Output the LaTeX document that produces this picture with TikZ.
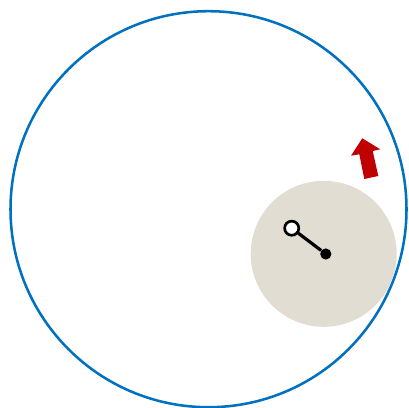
\documentclass[tikz,border=0pt]{standalone}
\definecolor{ringblue}{HTML}{0070C0}
\definecolor{discbeige}{HTML}{E1DDD2}
\definecolor{arrowred}{HTML}{C00000}
\tikzset{
  ring/.style={circle, draw=ringblue, line width=1.9pt, minimum size=297pt, inner sep=0pt},
  disc/.style={circle, fill=discbeige, minimum size=109.5pt, inner sep=0pt},
  pivot/.style={circle, fill=black, minimum size=8.4pt, inner sep=0pt},
  hole/.style={circle, draw=black, fill=white, line width=2pt, minimum size=10.6pt, inner sep=0pt},
  link/.style={line width=2.4pt, black},
  motion/.style={fill=arrowred, draw=none}
}
\begin{document}
\begin{tikzpicture}[x=0.75pt, y=-0.75pt]
\useasboundingbox (0,0) rectangle (409,407);
\node[ring] (outer) at (208.5,209.2) {};
\node[disc] (wheel) at (323.7,253.8) {};
\node[pivot] (center) at (325.8,254) {};
\node[hole] (pin) at (291.7,228.2) {};
\draw[link] (pin) -- (center);
\fill[motion] (362.3,138.3) -- (380.2,149.3) -- (372.7,151) -- (378.3,176) -- (364.3,179) -- (359.3,154.3) -- (351,155.7) -- cycle;
\end{tikzpicture}
\end{document}
